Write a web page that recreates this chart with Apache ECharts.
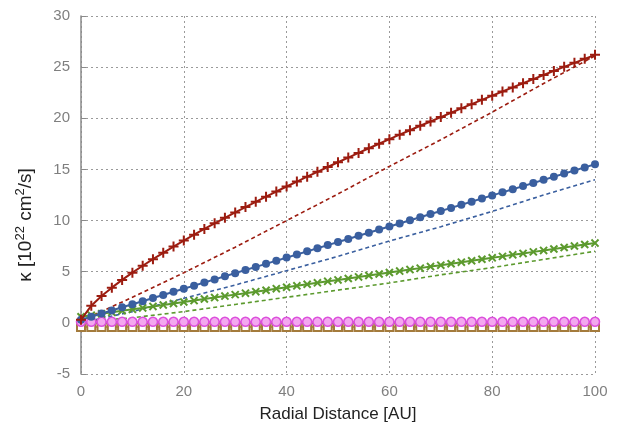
<!DOCTYPE html>
<html>
<head>
<meta charset="utf-8">
<script src="https://cdn.jsdelivr.net/npm/echarts@6/dist/echarts.min.js"></script>
<style>html,body{margin:0;padding:0;background:#fff}#c{width:623px;height:426px}</style>
</head>
<body>
<div id="c"></div>
<script>
// Radial distance (AU) for marker series
const radius = [0,2,4,6,8,10,12,14,16,18,20,22,24,26,28,30,32,34,36,38,40,42,44,46,48,50,52,54,56,58,60,62,64,66,68,70,72,74,76,78,80,82,84,86,88,90,92,94,96,98,100];
const redSolid = [0.3,1.68,2.62,3.44,4.20,4.91,5.58,6.23,6.85,7.46,8.05,8.62,9.18,9.73,10.27,10.80,11.32,11.83,12.34,12.84,13.33,13.81,14.29,14.77,15.24,15.70,16.16,16.61,17.07,17.51,17.96,18.40,18.83,19.27,19.69,20.12,20.54,20.97,21.38,21.80,22.21,22.62,23.02,23.43,23.83,24.23,24.63,25.03,25.42,25.81,26.2];
const blueSolid = [0.3,0.60,0.91,1.21,1.52,1.82,2.12,2.43,2.73,3.04,3.34,3.64,3.95,4.25,4.56,4.86,5.16,5.47,5.77,6.08,6.38,6.68,6.99,7.29,7.60,7.90,8.20,8.51,8.81,9.12,9.42,9.72,10.03,10.33,10.64,10.94,11.24,11.55,11.85,12.16,12.46,12.76,13.07,13.37,13.68,13.98,14.28,14.59,14.89,15.20,15.50];
const greenSolid = [0.6,0.74,0.89,1.03,1.18,1.32,1.46,1.61,1.75,1.90,2.04,2.18,2.33,2.47,2.62,2.76,2.90,3.05,3.19,3.34,3.48,3.62,3.77,3.91,4.06,4.20,4.34,4.49,4.63,4.78,4.92,5.06,5.21,5.35,5.50,5.64,5.78,5.93,6.07,6.22,6.36,6.50,6.65,6.79,6.94,7.08,7.22,7.37,7.51,7.66,7.80];
const pinkVals = [0.1,0.1,0.1,0.1,0.1,0.1,0.1,0.1,0.1,0.1,0.1,0.1,0.1,0.1,0.1,0.1,0.1,0.1,0.1,0.1,0.1,0.1,0.1,0.1,0.1,0.1,0.1,0.1,0.1,0.1,0.1,0.1,0.1,0.1,0.1,0.1,0.1,0.1,0.1,0.1,0.1,0.1,0.1,0.1,0.1,0.1,0.1,0.1,0.1,0.1,0.1];
const brownVals = [-0.4,-0.4,-0.4,-0.4,-0.4,-0.4,-0.4,-0.4,-0.4,-0.4,-0.4,-0.4,-0.4,-0.4,-0.4,-0.4,-0.4,-0.4,-0.4,-0.4,-0.4,-0.4,-0.4,-0.4,-0.4,-0.4,-0.4,-0.4,-0.4,-0.4,-0.4,-0.4,-0.4,-0.4,-0.4,-0.4,-0.4,-0.4,-0.4,-0.4,-0.4,-0.4,-0.4,-0.4,-0.4,-0.4,-0.4,-0.4,-0.4,-0.4,-0.4];
// Dashed model curves
const radiusCoarse = [0,10,20,30,40,50,60,70,80,90,100];
const redDashed = [0.2,2.5,4.9,7.4,10.0,12.6,15.3,17.9,20.6,23.4,26.1];
const blueDashed = [0.0,1.1,2.4,3.7,5.1,6.5,8.0,9.4,10.9,12.5,14.0];
const greenDashed = [0.1,0.5,1.1,1.8,2.5,3.2,3.9,4.7,5.4,6.2,7.0];
const yTicks = [-5,0,5,10,15,20,25,30];
const xTicks = [0,20,40,60,80,100];

const pair = (xs, ys) => xs.map((x, i) => [x, ys[i]]);
const plusPath = 'path://M4,0h2v4h4v2h-4v4h-2v-4h-4v-2h4z';

const FONT = '"Liberation Sans", Arial, sans-serif';
const chart = echarts.init(document.getElementById('c'), null, {renderer: 'canvas'});
const gridStyle = {show: true, lineStyle: {color: '#9a9a9a', type: [2, 3], width: 1}};
chart.setOption({
  animation: false,
  backgroundColor: '#fff',
  grid: {left: 81, right: 28, top: 16, bottom: 52, containLabel: false, outerBoundsMode: 'none'},
  xAxis: {
    type: 'value', min: xTicks[0], max: xTicks[xTicks.length - 1], interval: 20,
    axisLine: {lineStyle: {color: '#8a8a8a', width: 1.5}},
    axisTick: {inside: true, length: 5, lineStyle: {color: '#8a8a8a'}},
    axisLabel: {color: '#7f7f7f', fontSize: 15, fontFamily: FONT, margin: 10},
    splitLine: gridStyle,
    name: 'Radial Distance [AU]', nameLocation: 'middle', nameGap: 32,
    nameTextStyle: {color: '#222', fontSize: 17, fontFamily: FONT}
  },
  yAxis: {
    type: 'value', min: yTicks[0], max: yTicks[yTicks.length - 1], interval: 5,
    axisLine: {show: true, lineStyle: {color: '#8a8a8a', width: 1.5}},
    axisTick: {show: true, inside: true, length: 5, lineStyle: {color: '#8a8a8a'}},
    axisLabel: {color: '#7f7f7f', fontSize: 15, fontFamily: FONT, margin: 11},
    splitLine: gridStyle,
    name: '{a|κ [10}{s|22}{a| cm}{s|2}{a|/s]}', nameLocation: 'middle', nameGap: 43, nameRotate: 90,
    nameTextStyle: {
      color: '#222', fontSize: 19, fontFamily: FONT, padding: [0, 60, 0, 0],
      rich: {
        a: {color: '#222', fontSize: 19, fontFamily: FONT, lineHeight: 24},
        s: {color: '#222', fontSize: 13, fontFamily: FONT, verticalAlign: 'top', lineHeight: 16}
      }
    }
  },
  series: [
    {type: 'line', data: pair(radiusCoarse, redDashed), showSymbol: false, symbol: 'none',
     lineStyle: {color: '#9c1c10', width: 1.6, type: [4, 3]}, z: 2},
    {type: 'line', data: pair(radiusCoarse, blueDashed), showSymbol: false, symbol: 'none',
     lineStyle: {color: '#3a5f9f', width: 1.6, type: [4, 3]}, z: 2},
    {type: 'line', data: pair(radiusCoarse, greenDashed), showSymbol: false, symbol: 'none',
     lineStyle: {color: '#5c9a2e', width: 1.6, type: [4, 3]}, z: 2},
    {type: 'line', data: pair(radius, brownVals), symbol: 'emptyRect', symbolSize: 8,
     itemStyle: {color: '#a47b3c', borderWidth: 1.5}, lineStyle: {color: '#a47b3c', width: 1.5}, z: 3},
    {type: 'line', data: pair(radius, pinkVals), symbol: 'circle', symbolSize: 9,
     itemStyle: {color: '#f3a8ef', borderColor: '#dc4fdc', borderWidth: 1.5},
     lineStyle: {color: '#dc4fdc', width: 1.5}, z: 4},
    {type: 'line', data: pair(radius, greenSolid), symbol: plusPath, symbolSize: 10, symbolRotate: 45,
     itemStyle: {color: '#5c9a2e'}, lineStyle: {color: '#5c9a2e', width: 2}, z: 5},
    {type: 'line', data: pair(radius, blueSolid), symbol: 'circle', symbolSize: 8,
     itemStyle: {color: '#3a5f9f'}, lineStyle: {color: '#3a5f9f', width: 2}, z: 5},
    {type: 'line', data: pair(radius, redSolid), symbol: plusPath, symbolSize: 10,
     itemStyle: {color: '#9c1c10'}, lineStyle: {color: '#9c1c10', width: 2}, z: 6}
  ]
});
</script>
</body>
</html>
